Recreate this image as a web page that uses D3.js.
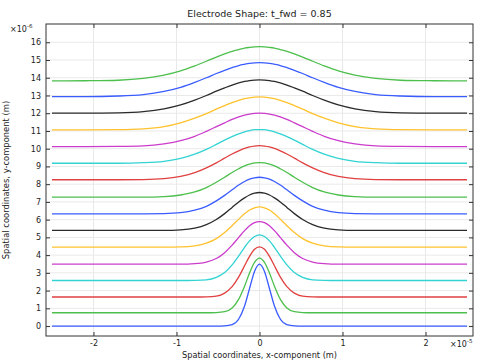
<!DOCTYPE html>
<html>
<head>
<meta charset="utf-8">
<script src="https://cdn.jsdelivr.net/npm/d3@7"></script>
<style>
  body { margin: 0; background: #fff; }
  text { font-family: "DejaVu Sans", sans-serif; fill: #222; }
</style>
</head>
<body>
<svg id="chart" width="481" height="363"></svg>
<script>
// x positions of the profile samples (x 1e-5 m)
const xGrid = [-2.5, -2.1, -1.7, -1.4, -1.15, -0.95, -0.78, -0.64, -0.52, -0.42, -0.33, -0.25, -0.18, -0.12, -0.06, 0,
    0.06, 0.12, 0.18, 0.25, 0.33, 0.42, 0.52, 0.64, 0.78, 0.95, 1.15, 1.4, 1.7, 2.1, 2.5];

// electrode surface height for each saved time step (y 1e-6 m)
const step01 = [0, 0, 0, 0, 0, 0, 0, 0, 0, 0.01, 0.08, 0.40, 1.13, 2.12, 3.08, 3.49, 3.08, 2.12, 1.13, 0.40, 0.08, 0.01, 0, 0, 0, 0, 0, 0, 0, 0, 0];
const step02 = [0.75, 0.75, 0.75, 0.75, 0.75, 0.75, 0.75, 0.75, 0.76, 0.81, 1.02, 1.52, 2.25, 2.99, 3.59, 3.83, 3.59, 2.99, 2.25, 1.52, 1.02, 0.81, 0.76, 0.75, 0.75, 0.75, 0.75, 0.75, 0.75, 0.75, 0.75];
const step03 = [1.64, 1.64, 1.64, 1.64, 1.64, 1.64, 1.64, 1.65, 1.69, 1.86, 2.22, 2.77, 3.40, 3.93, 4.33, 4.47, 4.33, 3.93, 3.40, 2.77, 2.22, 1.86, 1.69, 1.65, 1.64, 1.64, 1.64, 1.64, 1.64, 1.64, 1.64];
const step04 = [2.57, 2.57, 2.57, 2.57, 2.57, 2.57, 2.58, 2.61, 2.75, 3.02, 3.45, 3.96, 4.44, 4.80, 5.05, 5.14, 5.05, 4.80, 4.44, 3.96, 3.45, 3.02, 2.75, 2.61, 2.58, 2.57, 2.57, 2.57, 2.57, 2.57, 2.57];
const step05 = [3.49, 3.49, 3.49, 3.49, 3.49, 3.49, 3.52, 3.61, 3.81, 4.14, 4.56, 5.00, 5.38, 5.65, 5.83, 5.89, 5.83, 5.65, 5.38, 5.00, 4.56, 4.14, 3.81, 3.61, 3.52, 3.49, 3.49, 3.49, 3.49, 3.49, 3.49];
const step06 = [4.45, 4.45, 4.45, 4.45, 4.45, 4.46, 4.52, 4.67, 4.93, 5.27, 5.66, 6.03, 6.33, 6.54, 6.67, 6.72, 6.67, 6.54, 6.33, 6.03, 5.66, 5.27, 4.93, 4.67, 4.52, 4.46, 4.45, 4.45, 4.45, 4.45, 4.45];
const step07 = [5.39, 5.39, 5.39, 5.39, 5.39, 5.42, 5.52, 5.72, 6.01, 6.34, 6.69, 7.00, 7.23, 7.39, 7.49, 7.53, 7.49, 7.39, 7.23, 7.00, 6.69, 6.34, 6.01, 5.72, 5.52, 5.42, 5.39, 5.39, 5.39, 5.39, 5.39];
const step08 = [6.33, 6.33, 6.33, 6.33, 6.34, 6.39, 6.53, 6.75, 7.06, 7.37, 7.68, 7.95, 8.15, 8.28, 8.36, 8.39, 8.36, 8.28, 8.15, 7.95, 7.68, 7.37, 7.06, 6.75, 6.53, 6.39, 6.34, 6.33, 6.33, 6.33, 6.33];
const step09 = [7.27, 7.27, 7.27, 7.27, 7.30, 7.39, 7.56, 7.81, 8.11, 8.39, 8.66, 8.87, 9.03, 9.13, 9.20, 9.22, 9.20, 9.13, 9.03, 8.87, 8.66, 8.39, 8.11, 7.81, 7.56, 7.39, 7.30, 7.27, 7.27, 7.27, 7.27];
const step10 = [8.25, 8.25, 8.25, 8.26, 8.31, 8.44, 8.65, 8.92, 9.20, 9.47, 9.70, 9.88, 10.02, 10.10, 10.15, 10.17, 10.15, 10.10, 10.02, 9.88, 9.70, 9.47, 9.20, 8.92, 8.65, 8.44, 8.31, 8.26, 8.25, 8.25, 8.25];
const step11 = [9.18, 9.18, 9.18, 9.21, 9.29, 9.45, 9.69, 9.96, 10.24, 10.48, 10.68, 10.84, 10.95, 11.02, 11.07, 11.08, 11.07, 11.02, 10.95, 10.84, 10.68, 10.48, 10.24, 9.96, 9.69, 9.45, 9.29, 9.21, 9.18, 9.18, 9.18];
const step12 = [10.12, 10.12, 10.13, 10.16, 10.27, 10.45, 10.70, 10.98, 11.24, 11.46, 11.65, 11.79, 11.89, 11.95, 11.99, 12.00, 11.99, 11.95, 11.89, 11.79, 11.65, 11.46, 11.24, 10.98, 10.70, 10.45, 10.27, 10.16, 10.13, 10.12, 10.12];
const step13 = [11.06, 11.06, 11.07, 11.12, 11.25, 11.46, 11.72, 11.98, 12.23, 12.43, 12.60, 12.73, 12.82, 12.87, 12.91, 12.92, 12.91, 12.87, 12.82, 12.73, 12.60, 12.43, 12.23, 11.98, 11.72, 11.46, 11.25, 11.12, 11.07, 11.06, 11.06];
const step14 = [12.00, 12.00, 12.02, 12.09, 12.25, 12.47, 12.74, 13.00, 13.24, 13.43, 13.59, 13.71, 13.79, 13.84, 13.87, 13.88, 13.87, 13.84, 13.79, 13.71, 13.59, 13.43, 13.24, 13.00, 12.74, 12.47, 12.25, 12.09, 12.02, 12.00, 12.00];
const step15 = [12.94, 12.94, 12.97, 13.05, 13.23, 13.46, 13.74, 14.00, 14.24, 14.42, 14.57, 14.69, 14.76, 14.81, 14.84, 14.85, 14.84, 14.81, 14.76, 14.69, 14.57, 14.42, 14.24, 14.00, 13.74, 13.46, 13.23, 13.05, 12.97, 12.94, 12.94];
const step16 = [13.82, 13.83, 13.86, 13.96, 14.15, 14.39, 14.67, 14.93, 15.16, 15.34, 15.49, 15.59, 15.67, 15.71, 15.74, 15.75, 15.74, 15.71, 15.67, 15.59, 15.49, 15.34, 15.16, 14.93, 14.67, 14.39, 14.15, 13.96, 13.86, 13.83, 13.82];

const steps = [step01, step02, step03, step04, step05, step06, step07, step08,
    step09, step10, step11, step12, step13, step14, step15, step16];

// tick labels
const xTicks = [-2, -1, 0, 1, 2];
const yTicks = [0, 1, 2, 3, 4, 5, 6, 7, 8, 9, 10, 11, 12, 13, 14, 15, 16];

// comsol line colour cycle
const lineColors = ['#3a5cff', '#4cbf4c', '#e04040', '#33d3d3', '#cc3ccc', '#ffc22e', '#2b2b2b'];

const margin = { top: 24, right: 8, bottom: 27, left: 46 };
const width = 481 - margin.left - margin.right;
const height = 363 - margin.top - margin.bottom;

const svg = d3.select('#chart');
const g = svg.append('g').attr('transform', `translate(${margin.left},${margin.top})`);

const x = d3.scaleLinear().domain([-2.572, 2.572]).range([0, width]);
const y = d3.scaleLinear().domain([-0.56, 17.03]).range([height, 0]);

// grid
g.append('g')
    .selectAll('line')
    .data(xTicks)
    .enter()
    .append('line')
    .attr('x1', d => x(d)).attr('x2', d => x(d))
    .attr('y1', 0).attr('y2', height)
    .attr('stroke', '#e9e9e9');

g.append('g')
    .selectAll('line')
    .data(yTicks)
    .enter()
    .append('line')
    .attr('x1', 0).attr('x2', width)
    .attr('y1', d => y(d)).attr('y2', d => y(d))
    .attr('stroke', '#e9e9e9');

// lines
const lineGen = d3.line()
    .x((d, i) => x(xGrid[i]))
    .y(d => y(d))
    .curve(d3.curveMonotoneX);

g.append('g')
    .selectAll('path')
    .data(steps)
    .enter()
    .append('path')
    .attr('d', d => lineGen(d))
    .attr('fill', 'none')
    .attr('stroke', (d, i) => lineColors[i % lineColors.length])
    .attr('stroke-width', 1.3);

// axes, ticks pointing inwards on all four sides
function styleAxis(sel) {
    sel.select('.domain').remove();
    sel.selectAll('line').attr('stroke', '#333');
    sel.selectAll('text').style('font-size', '8px').attr('fill', '#222');
}

const plainNum = d => String(d);

g.append('g')
    .call(d3.axisLeft(y).tickValues(yTicks).tickSize(-4).tickPadding(5).tickFormat(plainNum))
    .call(styleAxis);

g.append('g')
    .attr('transform', `translate(${width},0)`)
    .call(d3.axisRight(y).tickValues(yTicks).tickSize(-4).tickFormat(''))
    .call(styleAxis);

g.append('g')
    .attr('transform', `translate(0,${height})`)
    .call(d3.axisBottom(x).tickValues(xTicks).tickSize(-4).tickPadding(4.5).tickFormat(plainNum))
    .call(styleAxis);

g.append('g')
    .call(d3.axisTop(x).tickValues(xTicks).tickSize(-4).tickFormat(''))
    .call(styleAxis);

g.append('rect')
    .attr('width', width)
    .attr('height', height)
    .attr('fill', 'none')
    .attr('stroke', '#333')
    .attr('stroke-width', 1);

// title and labels
svg.append('text')
    .attr('x', margin.left + width / 2)
    .attr('y', 17)
    .attr('text-anchor', 'middle')
    .style('font-size', '9.5px')
    .text('Electrode Shape: t_fwd = 0.85');

svg.append('text')
    .attr('x', margin.left + width / 2)
    .attr('y', 358)
    .attr('text-anchor', 'middle')
    .style('font-size', '8.2px')
    .text('Spatial coordinates, x-component (m)');

svg.append('text')
    .attr('transform', `translate(9,${margin.top + height / 2}) rotate(-90)`)
    .attr('text-anchor', 'middle')
    .style('font-size', '8.4px')
    .text('Spatial coordinates, y-component (m)');

// axis multipliers
const yExp = svg.append('text').attr('x', 10).attr('y', 32).style('font-size', '8px');
yExp.append('tspan').text('\u00d710');
yExp.append('tspan').attr('dy', -4).style('font-size', '5.5px').text('-6');

const xExp = svg.append('text').attr('x', 450).attr('y', 347).style('font-size', '8px');
xExp.append('tspan').text('\u00d710');
xExp.append('tspan').attr('dy', -4).style('font-size', '5.5px').text('-5');
</script>
</body>
</html>
